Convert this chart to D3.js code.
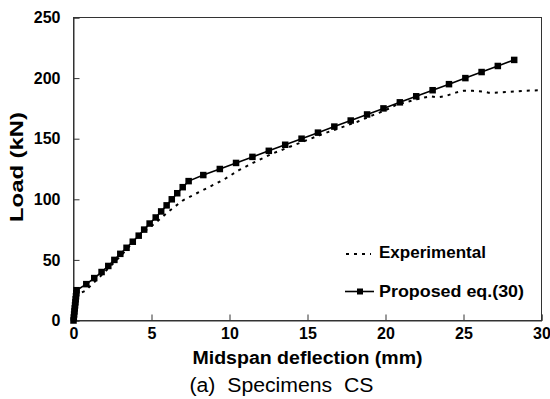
<!DOCTYPE html>
<html><head><meta charset="utf-8">
<script src="https://cdn.jsdelivr.net/npm/d3@7"></script>
<style>
html,body{margin:0;padding:0;background:#fff;}
svg{display:block;font-family:"Liberation Sans",Arial,sans-serif;}
</style></head>
<body>
<svg id="chart" width="550" height="399"></svg>
<script>
// Data
const proposedX = [0,0.02,0.04,0.06,0.08,0.1,0.12,0.14,0.16,0.18,0.2,
  0.82,1.33,1.8,2.23,2.62,3.0,3.4,3.8,4.18,4.53,4.88,5.27,5.62,5.97,6.3,6.65,7.0,7.38,
  8.32,9.38,10.42,11.47,12.52,13.57,14.62,15.67,16.72,17.77,18.82,19.87,20.92,21.97,23.02,24.07,25.12,26.16,27.2,28.25];
const proposedY = [0,2.5,5,7.5,10,12.5,15,17.5,20,22.5,25,
  30,35,40,45,50,55,60,65,70,75,80,85,90,95,100,105,110,115,
  120,125,130,135,140,145,150,155,160,165,170,175,180,185,190,195,200,205,210,215];
const experimentalX = [0,0.05,0.1,0.15,0.25,0.5,0.75,1.2,2.0,3.0,4.0,4.6,5.3,6.2,7.0,7.9,8.75,9.6,10.6,11.5,12.8,14.0,15.0,16.0,17.1,18.2,19.2,20.0,20.7,21.4,22.0,22.5,22.9,23.3,23.8,24.5,25.0,25.6,26.2,26.6,27.0,27.8,28.8,30.0];
const experimentalY = [0,8,15,20,22,23,24.5,30,40,53,67,74,81,91,99,105,110.5,116,124,130,138,144,149,154,159,164,169.5,173.5,178,180.5,182.5,184,185,184,185,188,189.5,189.5,189,188,188,188.5,189.5,190];
const xTicks = [0,5,10,15,20,25,30];
const yTicks = [0,50,100,150,200,250];
const seriesNames = ["Experimental","Proposed eq.(30)"];
const xTitle = "Midspan deflection (mm)";
const yTitle = "Load (kN)";
const caption = "(a)  Specimens  CS";

const svg = d3.select("#chart");
const L = 73.5, R = 541.5, T = 17.5, B = 320.5;
const x = d3.scaleLinear().domain([0,30]).range([L,R]);
const y = d3.scaleLinear().domain([0,250]).range([B,T]);
const axisColor = "#333";

svg.append("defs").append("clipPath").attr("id","clip")
  .append("rect").attr("x",L-4).attr("y",T).attr("width",R-L+4).attr("height",B-T+4);

// frame
svg.append("rect").attr("x",L).attr("y",T).attr("width",R-L).attr("height",B-T)
  .attr("fill","none").attr("stroke",axisColor).attr("stroke-width",1);

const gx = svg.append("g").attr("transform",`translate(0,${B})`)
  .call(d3.axisBottom(x).tickValues(xTicks).tickSize(-6).tickPadding(7).tickFormat(d3.format("d")));
const gy = svg.append("g").attr("transform",`translate(${L},0)`)
  .call(d3.axisLeft(y).tickValues(yTicks).tickSize(-6).tickPadding(13).tickFormat(d3.format("d")));
[gx,gy].forEach(g=>{
  g.select(".domain").attr("stroke",axisColor);
  g.selectAll(".tick line").attr("stroke",axisColor);
  g.selectAll(".tick text").attr("fill","#000").style("font-size","16px").style("font-weight","bold")
   .style("font-family","'Liberation Sans',Arial,sans-serif");
});

const expData = experimentalX.map((d,i)=>[d,experimentalY[i]]);
const propData = proposedX.map((d,i)=>[d,proposedY[i]]);
const line = d3.line().x(d=>x(d[0])).y(d=>y(d[1]));

const plot = svg.append("g").attr("clip-path","url(#clip)");
plot.append("path").datum(expData).attr("d",line).attr("fill","none")
  .attr("stroke","#000").attr("stroke-width",2).attr("stroke-dasharray","3,5");
plot.append("path").datum(propData).attr("d",line).attr("fill","none")
  .attr("stroke","#000").attr("stroke-width",1.6);
const s = 6.5;
svg.selectAll("rect.pt").data(propData).enter().append("rect").attr("class","pt")
  .attr("x",d=>x(d[0])-s/2).attr("y",d=>y(d[1])-s/2).attr("width",s).attr("height",s).attr("fill","#000");

// legend
const lg = svg.append("g");
lg.append("line").attr("x1",346).attr("x2",371).attr("y1",254).attr("y2",254)
  .attr("stroke","#000").attr("stroke-width",2).attr("stroke-dasharray","3,5");
lg.append("text").attr("x",379).attr("y",258).text(seriesNames[0])
  .attr("textLength",107).attr("lengthAdjust","spacingAndGlyphs")
  .style("font-size","17px").style("font-weight","bold");
lg.append("line").attr("x1",345).attr("x2",374).attr("y1",291.5).attr("y2",291.5)
  .attr("stroke","#000").attr("stroke-width",1.6);
lg.append("rect").attr("x",360-3).attr("y",291.5-3).attr("width",6).attr("height",6).attr("fill","#000");
lg.append("text").attr("x",379).attr("y",297).text(seriesNames[1])
  .attr("textLength",145).attr("lengthAdjust","spacingAndGlyphs")
  .style("font-size","17px").style("font-weight","bold");

// titles
svg.append("text").attr("x",(L+R)/2).attr("y",364).attr("text-anchor","middle")
  .attr("textLength",230).attr("lengthAdjust","spacingAndGlyphs")
  .style("font-size","17.5px").style("font-weight","bold").text(xTitle);
svg.append("text").attr("transform",`translate(23,167) rotate(-90)`).attr("text-anchor","middle")
  .attr("textLength",110).attr("lengthAdjust","spacingAndGlyphs")
  .style("font-size","17.5px").style("font-weight","bold").text(yTitle);
svg.append("text").attr("x",281.5).attr("y",392).attr("text-anchor","middle")
  .attr("textLength",184).attr("lengthAdjust","spacingAndGlyphs")
  .style("font-size","20px").style("white-space","pre").attr("xml:space","preserve").text(caption);
</script>
</body></html>
